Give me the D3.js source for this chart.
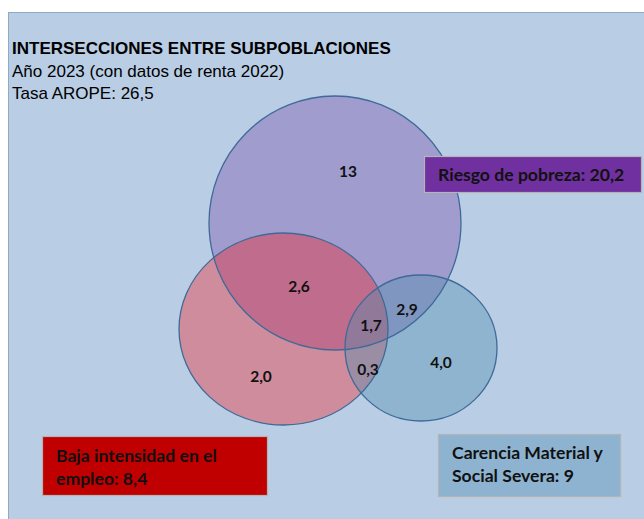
<!DOCTYPE html>
<html>
<head>
<meta charset="utf-8">
<script src="https://cdn.jsdelivr.net/npm/d3@7"></script>
<style>
  body { margin: 0; background: #ffffff; }
</style>
</head>
<body>
<svg></svg>
<script>
// data first
var titleLines = ["INTERSECCIONES ENTRE SUBPOBLACIONES", "Año 2023 (con datos de renta 2022)", "Tasa AROPE: 26,5"];
var setNames = ["Riesgo de pobreza: 20,2", "Baja intensidad en el empleo: 8,4", "Carencia Material y Social Severa: 9"];
var setKeys = ["pobreza", "empleo", "carencia"];
// region values (only / pairs / all three)
var regionKeys = ["pobreza", "pobreza-empleo", "pobreza-carencia", "todos", "empleo-carencia", "empleo", "carencia"];
var regionValues = ["13", "2,6", "2,9", "1,7", "0,3", "2,0", "4,0"];

var drawChart = function()
{
  var screen = { width: 644, height: 519 };
  var labelFont = 'Lato, "Open Sans", sans-serif';

  var svg = d3.select('svg')
              .attr('width', screen.width)
              .attr('height', screen.height);

  // background panel
  svg.append('rect')
     .attr('x', 8.5).attr('y', 12.5)
     .attr('width', 660).attr('height', 520)
     .attr('fill', '#b9cde5')
     .attr('stroke', '#8fa9c9')
     .attr('stroke-width', 1);

  // title
  var title = svg.append('g').attr('transform', 'translate(12,0)');
  title.selectAll('text')
       .data(titleLines)
       .enter().append('text')
       .attr('x', 0)
       .attr('y', function(d, i){ return 54 + i * 22.5; })
       .style('font-family', '"Liberation Sans", Arial, sans-serif')
       .attr('font-size', 17)
       .attr('font-weight', function(d, i){ return i == 0 ? 'bold' : 'normal'; })
       .attr('fill', '#000')
       .text(function(d){ return d; });

  // venn layout in pixel units via scales
  var xScale = d3.scaleLinear().domain([0, 1]).range([0, 1]);
  var yScale = d3.scaleLinear().domain([0, 1]).range([0, 1]);

  var layout = {
    pobreza:  { cx: 335,   cy: 223, rx: 126,   ry: 127, fill: 'rgb(135,107,183)', op: 0.5 },
    empleo:   { cx: 283.5, cy: 329, rx: 104.5, ry: 96,  fill: 'rgb(250,19,20)',   op: 0.35 },
    carencia: { cx: 421,   cy: 348, rx: 76,    ry: 73,  fill: 'rgb(78,142,174)',  op: 0.4 }
  };

  var plot = svg.append('g').classed('venn', true);

  plot.selectAll('ellipse')
      .data(setKeys)
      .enter().append('ellipse')
      .attr('cx', function(d){ return xScale(layout[d].cx); })
      .attr('cy', function(d){ return yScale(layout[d].cy); })
      .attr('rx', function(d){ return layout[d].rx; })
      .attr('ry', function(d){ return layout[d].ry; })
      .attr('fill', function(d){ return layout[d].fill; })
      .attr('fill-opacity', function(d){ return layout[d].op; })
      .attr('stroke', 'none');

  // outlines on top
  plot.selectAll('ellipse.outline')
      .data(setKeys)
      .enter().append('ellipse')
      .classed('outline', true)
      .attr('cx', function(d){ return xScale(layout[d].cx); })
      .attr('cy', function(d){ return yScale(layout[d].cy); })
      .attr('rx', function(d){ return layout[d].rx; })
      .attr('ry', function(d){ return layout[d].ry; })
      .attr('fill', 'none')
      .attr('stroke', '#3e6a98')
      .attr('stroke-width', 1.3);

  var labelPos = {
    'pobreza': [348, 171],
    'pobreza-empleo': [299, 286],
    'pobreza-carencia': [407, 309],
    'todos': [371, 325],
    'empleo-carencia': [368, 369],
    'empleo': [261, 376],
    'carencia': [441, 362]
  };

  plot.selectAll('text.val')
      .data(regionKeys)
      .enter().append('text')
      .classed('val', true)
      .attr('x', function(d){ return xScale(labelPos[d][0]); })
      .attr('y', function(d){ return yScale(labelPos[d][1]); })
      .attr('text-anchor', 'middle')
      .attr('dominant-baseline', 'central')
      .style('font-family', labelFont)
      .attr('font-size', 15.5)
      .attr('font-weight', 'bold')
      .attr('fill', '#111')
      .text(function(d, i){ return regionValues[i]; });

  // legend boxes
  var boxes = [
    { x: 424.5, y: 156.5, w: 217, h: 36, fill: '#7030a0', lines: [setNames[0]] },
    { x: 42.5,  y: 436.5, w: 225, h: 59, fill: '#c00000', lines: ["Baja intensidad en el", "empleo: 8,4"] },
    { x: 438.5, y: 434.5, w: 182, h: 62, fill: '#8db3d0', lines: ["Carencia Material y", "Social Severa: 9"] }
  ];
  var tx = [438, 56, 452];
  var ty = [[181], [462, 485], [459, 482]];

  var leg = svg.selectAll('g.legend')
               .data(boxes)
               .enter().append('g')
               .classed('legend', true);
  leg.append('rect')
     .attr('x', function(d){ return d.x; })
     .attr('y', function(d){ return d.y; })
     .attr('width', function(d){ return d.w; })
     .attr('height', function(d){ return d.h; })
     .attr('fill', function(d){ return d.fill; })
     .attr('stroke', '#b4b4b4')
     .attr('stroke-width', 1.2);
  leg.each(function(d, i){
    d3.select(this).selectAll('text')
      .data(d.lines)
      .enter().append('text')
      .attr('x', tx[i])
      .attr('y', function(t, j){ return ty[i][j]; })
      .style('font-family', labelFont)
      .attr('font-size', 17.6)
      .attr('font-weight', 'bold')
      .attr('fill', '#111')
      .text(function(t){ return t; });
  });
}

drawChart();
</script>
</body>
</html>
